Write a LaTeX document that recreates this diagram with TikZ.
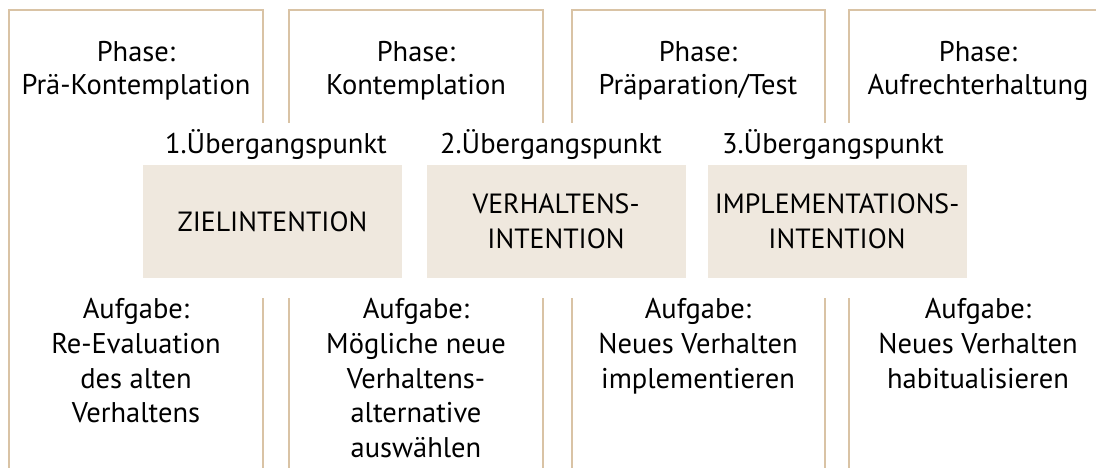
\documentclass[tikz,border=0pt]{standalone}
\usepackage{fontspec}
\setmainfont{PT Sans}
\definecolor{linetan}{HTML}{D9C3A5}
\definecolor{boxfill}{HTML}{EFE8DE}
\begin{document}
\begin{tikzpicture}[x=1pt,y=-1pt,
  frame/.style={draw=linetan,line width=2pt},
  txt/.style={font=\fontsize{28.5}{33}\selectfont,align=center,inner sep=0pt,text=black},
  task/.style={txt,font=\fontsize{28.5}{34.8}\selectfont},
  intent/.style={fill=boxfill,minimum width=259pt,minimum height=113pt,inner sep=0pt,
    font=\fontsize{27.8}{35}\selectfont,align=center}]
\useasboundingbox (0,0) rectangle (1096,468);
% column frames
\draw[frame] (9,468) -- (9,10) -- (263,10) -- (263,123);
\draw[frame] (263,298) -- (263,468);
\draw[frame] (289,123) -- (289,10) -- (543,10) -- (543,123);
\draw[frame] (289,298) -- (289,468);
\draw[frame] (543,298) -- (543,468);
\draw[frame] (572,123) -- (572,10) -- (825,10) -- (825,123);
\draw[frame] (572,298) -- (572,468);
\draw[frame] (825,298) -- (825,468);
\draw[frame] (849,123) -- (849,10) -- (1097,10);
\draw[frame] (849,298) -- (849,468);
% phase headers
\node[txt,anchor=north] (p1) at (136,41) {Phase:\\Prä-Kontemplation};
\node[txt,anchor=north] (p2) at (416,41) {Phase:\\Kontemplation};
\node[txt,anchor=north] (p3) at (698,41) {Phase:\\Präparation/Test};
\node[txt,anchor=north] (p4) at (978,41) {Phase:\\Aufrechterhaltung};
% transition points
\node[txt,anchor=base] (u1) at (276,154) {1.Übergangspunkt};
\node[txt,anchor=base] (u2) at (551,154) {2.Übergangspunkt};
\node[txt,anchor=base] (u3) at (833,154) {3.Übergangspunkt};
% intention boxes
\node[intent] (i1) at (272.5,221.5) {ZIELINTENTION};
\node[intent] (i2) at (556,221.5) {VERHALTENS-\\INTENTION};
\node[intent] (i3) at (837,221.5) {IMPLEMENTATIONS-\\INTENTION};
% tasks
\node[task,anchor=north] (a1) at (136,298) {Aufgabe:\\Re-Evaluation\\des alten\\Verhaltens};
\node[task,anchor=north] (a2) at (416,298) {Aufgabe:\\Mögliche neue\\Verhaltens-\\alternative\\auswählen};
\node[task,anchor=north] (a3) at (698,298) {Aufgabe:\\Neues Verhalten\\implementieren};
\node[task,anchor=north] (a4) at (978,298) {Aufgabe:\\Neues Verhalten\\habitualisieren};
\end{tikzpicture}
\end{document}
